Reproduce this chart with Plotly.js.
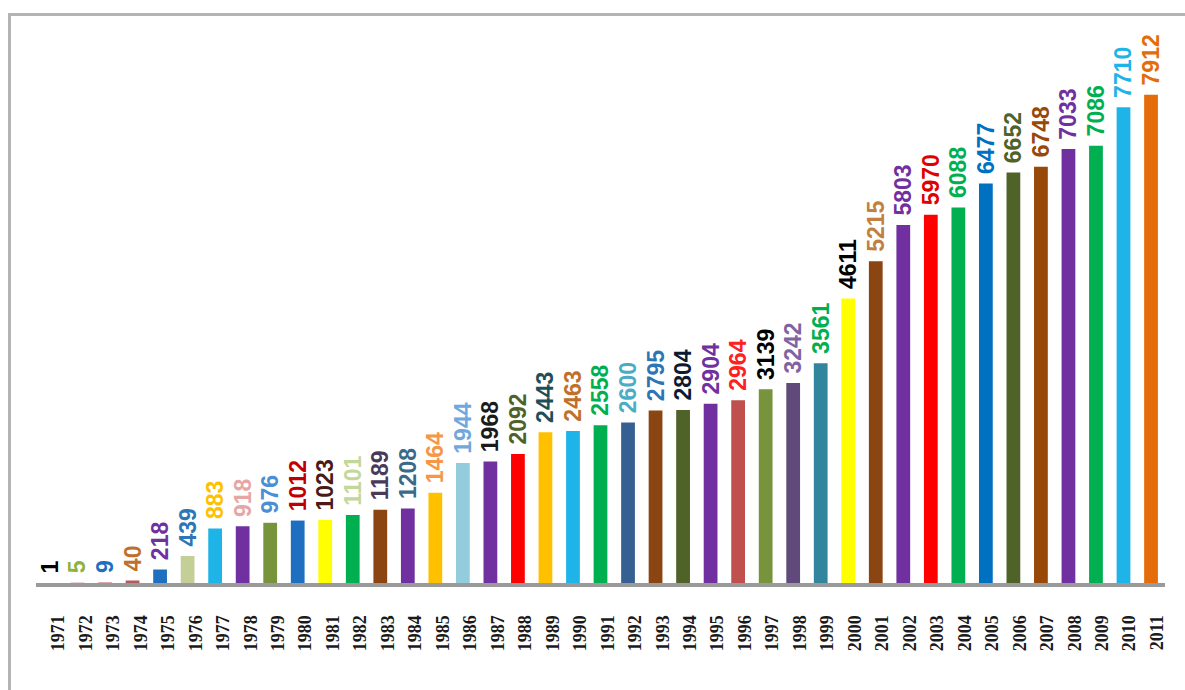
<!DOCTYPE html>
<html>
<head>
<meta charset="utf-8">
<script src="https://cdn.plot.ly/plotly-3.0.1.min.js"></script>
<style>
  html, body { margin: 0; padding: 0; background: #ffffff; }
  #wrap { position: relative; width: 1185px; height: 690px; overflow: hidden; }
  #chart { width: 1185px; height: 690px; }
  #frame { position: absolute; left: 8px; top: 13px; width: 1185px; height: 690px;
           border-left: 3px solid #b4b4b4; border-top: 3px solid #b4b4b4; pointer-events: none; }
</style>
</head>
<body>
<div id="wrap">
  <div id="chart"></div>
  <div id="frame"></div>
</div>
<script>
const years = ['1971','1972','1973','1974','1975','1976','1977','1978','1979','1980',
  '1981','1982','1983','1984','1985','1986','1987','1988','1989','1990',
  '1991','1992','1993','1994','1995','1996','1997','1998','1999','2000',
  '2001','2002','2003','2004','2005','2006','2007','2008','2009','2010','2011'];

const values = [1, 5, 9, 40, 218, 439, 883, 918, 976, 1012,
  1023, 1101, 1189, 1208, 1464, 1944, 1968, 2092, 2443, 2463,
  2558, 2600, 2795, 2804, 2904, 2964, 3139, 3242, 3561, 4611,
  5215, 5803, 5970, 6088, 6477, 6652, 6748, 7033, 7086, 7710, 7912];

const barColors = ['#b05a5a','#b05a5a','#b05a5a','#b05a5a','#1f6fc0','#c4cf98','#1fb4e8','#7030a0','#77933c','#1f6fc0',
  '#ffff00','#00b050','#8b4513','#7030a0','#ffc000','#93cddd','#7030a0','#ff0000','#ffc000','#1fb4e8',
  '#00b050','#366092','#8b4513','#4f6228','#7030a0','#c0504d','#77933c','#604a7b','#31859c','#ffff00',
  '#8b4513','#7030a0','#ff0000','#00b050','#0070c0','#4f6228','#984807','#7030a0','#00b050','#1fb4e8','#e46c0a'];

const labelColors = ['#000000','#8db33a','#1f6fc0','#c0702a','#7030a0','#2e75b6','#ffc000','#e6a6a6','#4a8fd6','#c00000',
  '#4a1a1a','#c4d79b','#4a3a5a','#3a6a8a','#f79646','#6fa8dc','#1a1a1a','#4f6228','#1f4e5a','#c0702a',
  '#00b050','#4bacc6','#2e75b6','#0d1a33','#7030a0','#ff2020','#000000','#8064a2','#00b050','#000000',
  '#c08040','#7030a0','#e00000','#00b050','#0070c0','#4f6228','#984807','#7030a0','#00b050','#1fb4e8','#e46c0a'];

const bars = {
  type: 'bar',
  x: years,
  y: values,
  xaxis: 'x',
  yaxis: 'y',
  marker: { color: barColors, line: { width: 0 } },
  text: values.map(v => '\u00a0' + v),
  textposition: 'outside',
  textangle: -90,
  constraintext: 'none',
  cliponaxis: false,
  textfont: { family: 'Liberation Sans, Arial, sans-serif', size: 23, weight: 'bold', color: labelColors },
  hoverinfo: 'x+y'
};

const labelAxisTrace = {
  type: 'scatter',
  mode: 'markers',
  x: years,
  y: values,
  xaxis: 'x2',
  yaxis: 'y',
  marker: { opacity: 0, size: 1 },
  hoverinfo: 'skip',
  showlegend: false
};

const layout = {
  width: 1185,
  height: 690,
  margin: { l: 10, r: 5, t: 20, b: 107 },
  paper_bgcolor: '#ffffff',
  plot_bgcolor: '#ffffff',
  showlegend: false,
  bargap: 0.5,
  xaxis: {
    type: 'category',
    domain: [0.0224, 0.987],
    range: [-0.5, 40.5],
    showticklabels: false,
    ticks: '',
    showgrid: false,
    zeroline: false,
    showline: true,
    linecolor: '#9a9a9a',
    linewidth: 4,
    fixedrange: true
  },
  xaxis2: {
    type: 'category',
    overlaying: 'x',
    anchor: 'y',
    side: 'bottom',
    domain: [0, 1],
    range: [-0.808, 40.28],
    tickangle: -90,
    ticks: 'outside',
    ticklen: 24,
    tickcolor: 'rgba(0,0,0,0)',
    showgrid: false,
    zeroline: false,
    showline: false,
    tickfont: { family: 'Liberation Serif, Times New Roman, serif', size: 18, weight: 'bold', color: '#1a1a1a' },
    fixedrange: true
  },
  yaxis: {
    range: [0, 9125],
    showticklabels: false,
    showgrid: false,
    zeroline: false,
    showline: false,
    ticks: '',
    fixedrange: true
  }
};

Plotly.newPlot('chart', [bars, labelAxisTrace], layout, { displayModeBar: false, staticPlot: true });
</script>
</body>
</html>
